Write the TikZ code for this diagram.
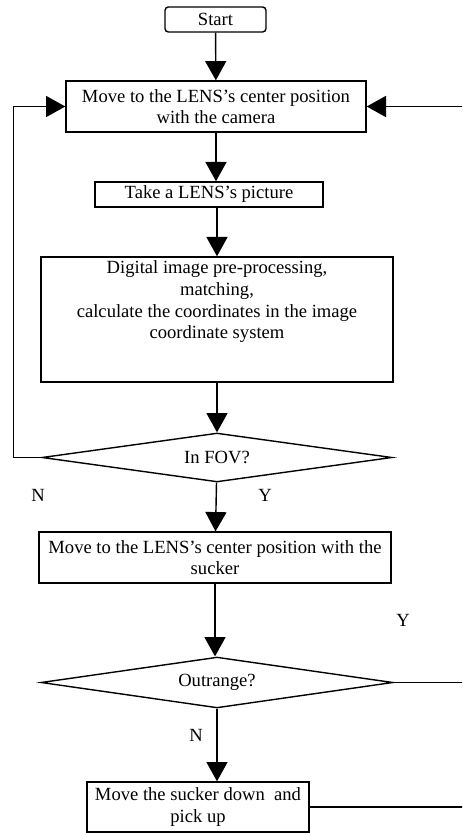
\documentclass[tikz,border=0pt]{standalone}
\usepackage{fontspec}
\setmainfont{Liberation Serif}
\usetikzlibrary{shapes.geometric,arrows.meta}
\tikzset{
  basefont/.style={font=\fontsize{10.6}{12.3}\selectfont},
  startbox/.style={draw, line width=0.8pt, rounded corners=2pt, basefont, inner sep=0pt,
    minimum width=57.6pt, minimum height=14.3pt},
  procbox/.style={draw, line width=0.8pt, align=center, basefont, inner sep=0pt},
  decision/.style={draw, diamond, aspect=8, line width=0.8pt, basefont, inner sep=0pt},
  flow/.style={line width=0.8pt, -{Triangle[length=11pt,width=12pt]}},
  line/.style={line width=0.8pt},
  lbl/.style={basefont, inner sep=0pt}
}
\begin{document}
\begin{tikzpicture}[x=0.57pt, y=-0.57pt]
  \clip (0,0) rectangle (462,833); % Page frame, right rail falls outside

  % Main column of steps
  \node[startbox] (start) at (215.5,19.5) {Start};
  \node[procbox, minimum width=171pt, minimum height=29pt] (camera) at (216,106.5)
    {Move to the LENS's center position\\with the camera};
  \node[procbox, minimum width=130pt, minimum height=14.3pt] (shot) at (209,194.5)
    {Take a LENS's picture};
  \node[procbox, minimum width=200.6pt, minimum height=71.3pt,
    label={[anchor=north, align=center, basefont, inner sep=2.5pt]north:{Digital image pre-processing,\\matching,\\calculate the coordinates in the image\\coordinate system}}]
    (match) at (217,319.5) {};
  \node[decision, minimum width=199.5pt, minimum height=27.9pt] (fov) at (217,457.5) {In FOV?};
  \node[procbox, minimum width=200.6pt, minimum height=29pt] (sucker) at (215,557.5)
    {Move to the LENS's center position with the\\sucker};
  \node[decision, minimum width=200.6pt, minimum height=29pt] (range) at (217,682.5) {Outrange?};
  \node[procbox, minimum width=126.5pt, minimum height=28.5pt] (pick) at (198,807)
    {Move the sucker down~ and\\pick up};

  % Branch labels
  \node[lbl] (fovN) at (38,495) {N};
  \node[lbl] (fovY) at (265,495) {Y};
  \node[lbl] (rangeY) at (403,620) {Y};
  \node[lbl] (rangeN) at (196,735) {N};

  % Arrows down the column
  \draw[flow] (start) -- (camera);
  \draw[flow] (camera.south) -- (camera.south |- shot.north);
  \draw[flow] (match.north |- shot.south) -- (match.north);
  \draw[flow] (match) -- (fov);
  \draw[flow] (fov) -- (sucker);
  \draw[flow] (sucker.south) -- (sucker.south |- range.north);
  \draw[flow] (range.south) -- (range.south |- pick.north);

  % Loop back when the lens is not in view
  \draw[flow] (fov.west) -- ++(-28,0) |- (camera.west);

  % Right rail back to the first step
  \coordinate (rail) at (466,682.5);
  \draw[flow] (range.east) -- (rail) |- (camera.east);
  \draw[line] (pick.east) -- (pick.east -| rail);
\end{tikzpicture}
\end{document}
